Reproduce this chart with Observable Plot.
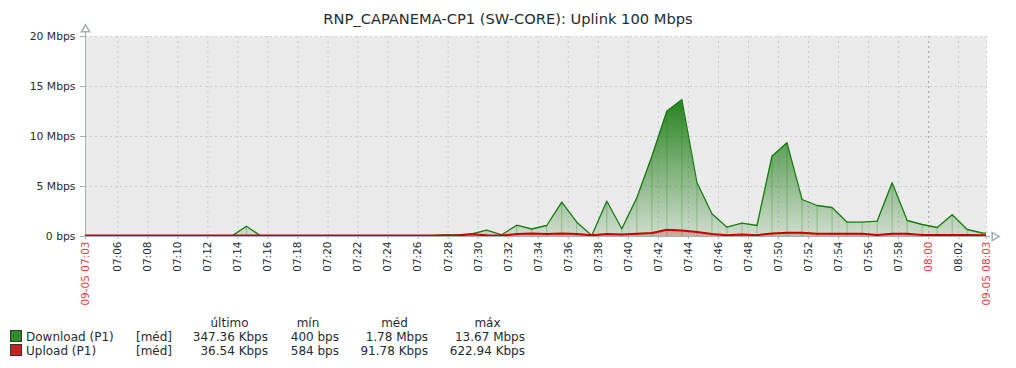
<!DOCTYPE html>
<html><head><meta charset="utf-8">
<script src="https://cdn.jsdelivr.net/npm/d3@7"></script>
<script src="https://cdn.jsdelivr.net/npm/@observablehq/plot@0.6"></script>
<style>
body{margin:0;background:#fff;font-family:"DejaVu Sans",sans-serif;color:#1f2c33}
#wrap{position:relative;width:1016px;height:368px;overflow:hidden;background:#fff}
#title{position:absolute;left:0;top:10px;width:1016px;height:18px;line-height:18px;text-align:center;font-size:14.67px;white-space:nowrap}
#chart{position:absolute;left:0;top:26px}
.lg{position:absolute;font-size:12px;line-height:14px;white-space:nowrap}
.r{text-align:right;width:120px}
.c{text-align:center;width:100px}
.sq{position:absolute;width:12px;height:12px;box-sizing:border-box;border:1px solid #333}
</style></head>
<body><div id="wrap"><div id="title"></div><div id="chart"></div></div>
<script>
// ---- data ----
const title = "RNP_CAPANEMA-CP1 (SW-CORE): Uplink 100 Mbps";
const minutes = [3,4,5,6,7,8,9,10,11,12,13,14,15,16,17,18,19,20,21,22,23,24,25,26,27,28,29,30,31,32,33,34,35,36,37,38,39,40,41,42,43,44,45,46,47,48,49,50,51,52,53,54,55,56,57,58,59,60,61,62,63,64];
const downloadMbps = [0.001,0.002,0.001,0.003,0.002,0.001,0.002,0.001,0.0004,0.002,0.01,1.03,0.01,0.002,0.002,0.001,0.002,0.003,0.002,0.001,0.002,0.002,0.001,0.002,0.17,0.17,0.25,0.63,0.17,1.13,0.75,1.1,3.43,1.43,0.1,3.53,0.77,3.87,8.0,12.53,13.67,5.4,2.27,0.93,1.33,1.1,8.03,9.37,3.7,3.1,2.9,1.43,1.43,1.53,5.37,1.6,1.2,0.9,2.17,0.7,0.35,0.33];
const uploadMbps = [0.01,0.01,0.01,0.01,0.01,0.01,0.01,0.01,0.01,0.01,0.01,0.01,0.01,0.01,0.01,0.01,0.01,0.01,0.01,0.01,0.01,0.01,0.01,0.01,0.01,0.01,0.14,0.04,0.02,0.16,0.22,0.16,0.23,0.16,0.04,0.17,0.12,0.19,0.27,0.6,0.52,0.36,0.17,0.05,0.12,0.05,0.23,0.3,0.3,0.19,0.19,0.2,0.2,0.08,0.2,0.2,0.08,0.08,0.08,0.08,0.036,0.036];
const yTicks = [0,5,10,15,20];
const yTickLabels = ["0 bps","5 Mbps","10 Mbps","15 Mbps","20 Mbps"];
const xTickLabels = ["07:06","07:08","07:10","07:12","07:14","07:16","07:18","07:20","07:22","07:24","07:26","07:28","07:30","07:32","07:34","07:36","07:38","07:40","07:42","07:44","07:46","07:48","07:50","07:52","07:54","07:56","07:58","08:02"];
const redTickLabels = ["09-05 07:03","08:00","09-05 08:03"];
const redTickTimes = ["07:03:51","08:00:00","08:03:51"];
const seriesNames = ["Download (P1)","Upload (P1)"];
const seriesColors = ["#2f8a2a","#c42020"];
const legendHeaders = ["último","mín","méd","máx"];
const legendDown = ["347.36 Kbps","400 bps","1.78 Mbps","13.67 Mbps"];
const legendUp = ["36.54 Kbps","584 bps","91.78 Kbps","622.94 Kbps"];

// ---- build ----
const T = s => { const [h,m,sec] = s.split(":").map(Number); return new Date(Date.UTC(2024,8,5,h,m,sec||0)); };
const rows = minutes.map((m,i) => ({t: new Date(Date.UTC(2024,8,5,7,m,34)), down: downloadMbps[i], up: uploadMbps[i]}));
const xTicks = xTickLabels.map(T);
const redTicks = redTickTimes.map(T);
const start = redTicks[0], end = redTicks[2];
const lineDown = "#1a7c11", lineUp = "#c80000";
const gridC = "#c6cfd4", axisC = "#a3afb5";

document.getElementById("title").textContent = title;

const chart = Plot.plot({
  width: 1016, height: 284,
  marginTop: 10, marginBottom: 74, marginLeft: 85, marginRight: 30,
  style: {fontFamily: "DejaVu Sans", fontSize: "10px", color: "#1f2c33", background: "transparent", overflow: "visible"},
  x: {type: "utc", domain: [start, end]},
  y: {domain: [0, 20]},
  marks: [
    Plot.frame({fill: "#ebebeb", stroke: null}),
    Plot.gridY(yTicks.slice(1), {stroke: gridC, strokeOpacity: 1, strokeDasharray: "2,3"}),
    Plot.gridX(xTicks, {stroke: gridC, strokeOpacity: 1, strokeDasharray: "2,3"}),
    Plot.gridX([redTicks[1]], {stroke: "#9ea6aa", strokeOpacity: 1, strokeDasharray: "2,3"}),
    Plot.gridX([end], {stroke: gridC, strokeOpacity: 1, strokeDasharray: "2,3"}),
    Plot.ruleX([start], {stroke: axisC, insetTop: -5}),
    Plot.ruleY([0], {stroke: axisC, insetRight: -4}),
    Plot.dot([{t: start, v: 20}], {x: "t", y: "v", symbol: "triangle", r: 3, fill: "white", stroke: axisC, dy: -7}),
    Plot.dot([{t: end, v: 0}], {x: "t", y: "v", symbol: "triangle", rotate: 90, r: 3, fill: "white", stroke: axisC, dx: 8}),
    Plot.areaY(rows, {x: "t", y: "down", fill: "url(#gDown)", clip: true}),
    Plot.ruleX(rows, {x: "t", y1: 0, y2: "down", stroke: lineDown, strokeOpacity: 0.3, clip: true}),
    Plot.lineY(rows, {x: "t", y: "down", stroke: lineDown, strokeWidth: 1.3, clip: true}),
    Plot.areaY(rows, {x: "t", y: "up", fill: "url(#gUp)", clip: true}),
    Plot.lineY(rows, {x: "t", y: "up", stroke: lineUp, strokeWidth: 2, dy: -0.8, clip: true}),
    Plot.axisY({ticks: yTicks, tickFormat: d => yTickLabels[yTicks.indexOf(d)], tickSize: 5, tickPadding: 5, stroke: axisC, label: null, fontSize: 10.8}),
    Plot.axisX({ticks: xTicks, tickFormat: d => xTickLabels[xTicks.findIndex(v => +v === +d)], tickRotate: -90, tickSize: 3, tickPadding: 2, stroke: axisC, label: null, fontSize: 10.5}),
    Plot.axisX({ticks: redTicks, tickFormat: d => redTickLabels[redTicks.findIndex(v => +v === +d)], tickRotate: -90, tickSize: 3, tickPadding: 2, stroke: axisC, fill: "#ee3a3a", label: null, fontSize: 10.5})
  ]
});
document.getElementById("chart").appendChild(chart);

// gradients in plot space
const ys = chart.scale("y");
const yTop = ys.apply(20), yBot = ys.apply(0);
const svg = d3.select(chart.tagName.toLowerCase() === "svg" ? chart : chart.querySelector("svg"));
const defs = svg.insert("defs", ":first-child");
function grad(id, color, stops) {
  const g = defs.append("linearGradient").attr("id", id).attr("gradientUnits", "userSpaceOnUse")
    .attr("x1", 0).attr("x2", 0).attr("y1", yTop).attr("y2", yBot);
  stops.forEach(([o, a]) => g.append("stop").attr("offset", o).attr("stop-color", color).attr("stop-opacity", a));
}
grad("gDown", lineDown, [[0, 1], [0.3, 0.95], [1, 0.13]]);
grad("gUp", lineUp, [[0, 1], [0.9, 0.5], [1, 0.2]]);

// legend
const wrap = document.getElementById("wrap");
function add(cls, text, left, top, extra) {
  const s = document.createElement("div");
  s.className = cls; s.textContent = text; s.style.left = left + "px"; s.style.top = top + "px";
  if (extra) Object.assign(s.style, extra);
  wrap.appendChild(s); return s;
}
const headCenters = [229.5, 308, 394.5, 487.5];
const colRights = [268, 339, 428, 525];
legendHeaders.forEach((h, i) => add("lg c", h, headCenters[i] - 50, 316));
[legendDown, legendUp].forEach((vals, r) => {
  const top = 330 + r * 14;
  const sq = document.createElement("div"); sq.className = "sq";
  sq.style.left = "10px"; sq.style.top = (top + 0) + "px"; sq.style.background = seriesColors[r];
  wrap.appendChild(sq);
  add("lg", seriesNames[r], 26, top);
  add("lg", "[méd]", 136, top);
  vals.forEach((v, i) => add("lg r", v, colRights[i] - 120, top));
});
</script></body></html>
